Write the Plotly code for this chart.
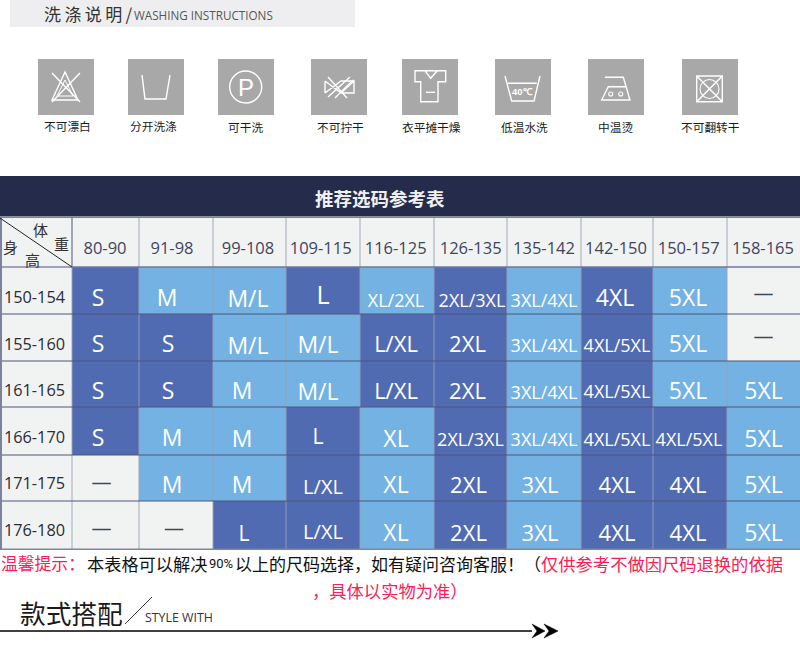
import plotly.graph_objects as go

WEIGHTS = ["80-90", "91-98", "99-108", "109-115", "116-125", "126-135", "135-142", "142-150", "150-157", "158-165"]
HEIGHTS = ["150-154", "155-160", "161-165", "166-170", "171-175", "176-180"]
SIZES = [
    ["S", "M", "M/L", "L", "XL/2XL", "2XL/3XL", "3XL/4XL", "4XL", "5XL", "—"],
    ["S", "S", "M/L", "M/L", "L/XL", "2XL", "3XL/4XL", "4XL/5XL", "5XL", "—"],
    ["S", "S", "M", "M/L", "L/XL", "2XL", "3XL/4XL", "4XL/5XL", "5XL", "5XL"],
    ["S", "M", "M", "L", "XL", "2XL/3XL", "3XL/4XL", "4XL/5XL", "4XL/5XL", "5XL"],
    ["—", "M", "M", "L/XL", "XL", "2XL", "3XL", "4XL", "4XL", "5XL"],
    ["—", "—", "L", "L/XL", "XL", "2XL", "3XL", "4XL", "4XL", "5XL"],
]
# 0 = no recommendation (grey), 1 = light blue, 2 = dark blue
TONES = [
    [2, 1, 1, 2, 1, 2, 1, 2, 1, 0],
    [2, 2, 1, 1, 2, 2, 1, 2, 1, 0],
    [2, 2, 1, 1, 2, 2, 1, 2, 1, 1],
    [2, 1, 1, 2, 1, 2, 1, 2, 2, 1],
    [0, 1, 1, 2, 1, 2, 1, 2, 2, 1],
    [0, 0, 2, 2, 1, 2, 1, 2, 2, 1],
]
WASH_LABELS = ["不可漂白", "分开洗涤", "可干洗", "不可拧干", "衣平摊干燥", "低温水洗", "中温烫", "不可翻转干"]

# layout tables (pixels)
X_EDGES = [0, 72, 139, 213, 286, 360, 434, 507, 581, 653, 727, 800]
Y_EDGES = [218, 267, 314, 361, 407, 455, 501, 549]
FONT_PX = [
    [23, 23, 23, 25, 18, 18, 18, 23, 23, 20],
    [23, 23, 23, 23, 22, 22, 18, 18, 23, 20],
    [23, 23, 23, 23, 22, 22, 18, 18, 23, 23],
    [23, 23, 23, 21, 23, 18, 18, 18, 18, 23],
    [20, 23, 23, 20, 23, 22, 22, 22, 22, 23],
    [20, 20, 21, 20, 23, 22, 22, 22, 22, 23],
]
DX = [
    [-7.5, -9, -1.5, 0, -1, 1.5, 0, -2, -2, 0],
    [-7.5, -8, -1.5, -5, -1, -3, 0, 0, -2, 0],
    [-7.5, -8, -7.5, -5, -1, -3, 0, 0, -2, 0],
    [-7.5, -4, -7.5, -5, -1, 0, 0, 0, -1, 0],
    [-4, -4, -7.5, 0, -1, -2, -4, 0, -2, 0],
    [-4, -2, -5.5, 0, -1, -2, -4, 0, -2, 0],
]
DY = [
    [8.5, 8.5, 9.5, 5.5, 10.5, 10.5, 10.5, 8.5, 8.5, 2.5],
    [7.5, 7.5, 9.5, 8.5, 7.5, 7.5, 8.5, 8.5, 7.5, -1.5],
    [8, 8, 8, 9, 8, 8, 9, 8, 8, 8],
    [8, 8, 9, 6, 9, 9, 9, 9, 9, 9],
    [4, 8, 8, 9, 8, 8, 8, 8, 8, 8],
    [3, 3, 9, 7, 9, 9, 9, 9, 9, 9],
]
TEXT_SHIFT = 1.5
HEAD_X = [105, 172, 248, 320.7, 395.7, 470.7, 544, 616, 688.7, 763]
ROW_Y = [299, 346, 392, 439, 485, 532]
ICON_X = [(38, 94), (128, 184), (218, 274), (311, 367), (402, 458), (495, 551), (588, 644), (682, 738)]
LABEL_X = [67.5, 153, 245.8, 340, 431, 524, 615.5, 710]
LABEL_Y = [125.5, 125.5, 126.5, 126.5, 126.5, 126.5, 126.5, 126.5]

CJK = "Noto Sans CJK SC"
LAT = "Open Sans"
GREY, LIGHT, DARK = "#f1f3f2", "#73b2e3", "#516bb2"
RED = "#fb2056"

fig = go.Figure()

z = [[0] * 11] + [[0] + row for row in TONES]
fig.add_trace(go.Heatmap(
    x=X_EDGES, y=Y_EDGES, z=z, zmin=0, zmax=2, showscale=False, hoverinfo="skip",
    colorscale=[[0, GREY], [0.33, GREY], [0.33, LIGHT], [0.66, LIGHT], [0.66, DARK], [1, DARK]],
))

xs, ys, txt, fs, cols = [], [], [], [], []
for r, row in enumerate(SIZES):
    for c, s in enumerate(row):
        xs.append((X_EDGES[c + 1] + X_EDGES[c + 2]) / 2 + DX[r][c])
        ys.append((Y_EDGES[r + 1] + Y_EDGES[r + 2]) / 2 + DY[r][c] + TEXT_SHIFT)
        txt.append(s)
        fs.append(FONT_PX[r][c])
        cols.append("#3c4560" if s == "—" else "#ffffff")
fig.add_trace(go.Scatter(x=xs, y=ys, text=txt, mode="text", textposition="middle center", hoverinfo="skip",
                         textfont=dict(family=LAT, size=fs, color=cols)))
fig.add_trace(go.Scatter(x=HEAD_X, y=[250] * len(WEIGHTS), text=WEIGHTS, mode="text", hoverinfo="skip",
                         textfont=dict(family=LAT, size=16.5, color="#3e4560")))
fig.add_trace(go.Scatter(x=[34.5] * len(HEIGHTS), y=ROW_Y, text=HEIGHTS, mode="text", hoverinfo="skip",
                         textfont=dict(family=LAT, size=16.3, color="#2a2c38")))

shapes = []


def rect(x0, y0, x1, y1, fill):
    shapes.append(dict(type="rect", x0=x0, y0=y0, x1=x1, y1=y1, fillcolor=fill, line_width=0, layer="below"))


def line(x0, y0, x1, y1, color, w=1.0):
    shapes.append(dict(type="line", x0=x0, y0=y0, x1=x1, y1=y1, line=dict(color=color, width=w)))


def path(d, color="#ffffff", w=1.4, fill=None):
    s = dict(type="path", path=d, line=dict(color=color, width=w))
    if fill:
        s["fillcolor"] = fill
    shapes.append(s)


def circle(cx, cy, rad, color="#ffffff", w=1.4):
    shapes.append(dict(type="circle", x0=cx - rad, x1=cx + rad, y0=cy - rad, y1=cy + rad, line=dict(color=color, width=w)))


# top band + icon tiles
rect(10, 0, 355, 27, "#eeeef0")
for x0, x1 in ICON_X:
    rect(x0, 59, x1, 115, "#a8a8a8")
path("M65 72 L52 100 L78 100 Z")
path("M65 80 L57 96 L73 96 Z", w=1.0)
path("M52 73 L80 102 M80 73 L52 102")
path("M142 75 L145 99 L166 99 L170 75")
circle(245.7, 87, 16)
path("M325 81 L341 93 L354 93 L354 81 L341 93 M325 93 L325 81 M325 93 L341 81 L354 81")
path("M328 97 L350 77 M328 77 L347 98 M335 98 L353 80")
path("M425 70.7 L415 70.7 L415 81.7 L420.7 81.7 L420.7 101.7 L438 101.7 L438 81.7 L445.7 81.7 L445.7 70.7 L437.3 70.7 L430.7 78.3 L425 70.7 L437.3 70.7")
path("M426 92.3 L435 92.3")
path("M505 76 L511.7 101 L534 101 L540 76 M508 83.3 L536.7 83.3")
path("M605 77.3 L623.3 77.3 L630 100 L601.7 100 L608.3 86.7 L625.7 86.7")
circle(610.7, 94, 2, w=1.1)
circle(620.7, 94, 2, w=1.1)
path("M696.7 76 L722.3 76 L722.3 101.7 L696.7 101.7 Z M696.7 76 L722.3 101.7 M722.3 76 L696.7 101.7")
circle(709.5, 89, 9.5, w=1.1)

# table band and grid
rect(0, 176, 800, 216.5, "#252b4b")
line(0, 217.3, 800, 217.3, "#7d829c", 1.2)
for x in X_EDGES[1:-1]:
    line(x, 218, x, 549, "#98a2b4", 0.9)
line(72, 218, 72, 267, "#8a8f9e", 1.3)
for y in Y_EDGES[1:-1]:
    line(0, y, 800, y, "#4c5778", 1.0)
line(72, 267, 800, 267, "#808ca0", 1.0)
line(0, 549.3, 800, 549.3, "#7e879c", 1.4)
line(1, 218, 1, 549, "#7d829c", 2)
line(0, 218, 72, 267, "#20222c", 1.0)

# footer decorations
line(152, 597, 125, 624, "#222222", 0.9)
line(0, 631, 532, 631, "#000000", 1.6)
path("M532 624 L545 631 L532 638 L537 631 Z M544 624 L558 631 L544 638 L549 631 Z", color="#000000", w=0.5, fill="#000000")

ann = []


def note(x, y, text, size, color="#111111", font=CJK, anchor="center"):
    ann.append(dict(x=x, y=y, xref="x", yref="y", text=text, showarrow=False, xanchor=anchor, yanchor="middle",
                    font=dict(family=font, size=size, color=color), borderpad=0))


note(43, 13, "洗\u2009涤\u2009说\u2009明\u2009/", 17, "#333333", anchor="left")
note(133, 15, "WASHING INSTRUCTIONS", 11.7, "#555555", LAT, "left")
for x, y, t in zip(LABEL_X, LABEL_Y, WASH_LABELS):
    note(x, y, t, 11.7, "#1a1a1a")
note(245.7, 87, "P", 24, "#ffffff", "Liberation Sans")
note(522.3, 91.5, "<b>40℃</b>", 9.5, "#ffffff", "Liberation Sans")
note(380, 198, "<b>推荐选码参考表</b>", 18.5, "#f0f0f0")
note(40.7, 229.3, "体", 15, "#333333")
note(61.7, 243.3, "重", 15, "#333333")
note(10, 246, "身", 15, "#333333")
note(32.7, 259.3, "高", 15, "#333333")
note(0, 563, "温馨提示：", 16.8, RED, anchor="left")
note(86, 563, "本表格可以解决", 17.2, "#111111", anchor="left")
note(208, 563, "90%", 13, "#111111", "Roboto", "left")
note(234, 563, "以上的尺码选择，如有疑问咨询客服！（", 17, "#111111", anchor="left")
note(540, 563, "仅供参考不做因尺码退换的依据", 17.3, RED, anchor="left")
note(311, 590.5, "，具体以实物为准）", 17.3, RED, anchor="left")
note(18.5, 612, "款式搭配", 25.7, "#1a1a1a", anchor="left")
note(144, 617, "STYLE WITH", 12.4, "#333333", LAT, "left")

fig.update_layout(
    width=800, height=647, margin=dict(l=0, r=0, t=0, b=0), autosize=False,
    paper_bgcolor="#ffffff", plot_bgcolor="#ffffff", showlegend=False,
    xaxis=dict(range=[0, 800], visible=False, fixedrange=True),
    yaxis=dict(range=[647, 0], visible=False, fixedrange=True),
    shapes=shapes, annotations=ann,
)
fig.write_html("out.html", config={"displayModeBar": False},
               post_script="document.body.style.margin='0';document.documentElement.style.overflow='hidden';")
